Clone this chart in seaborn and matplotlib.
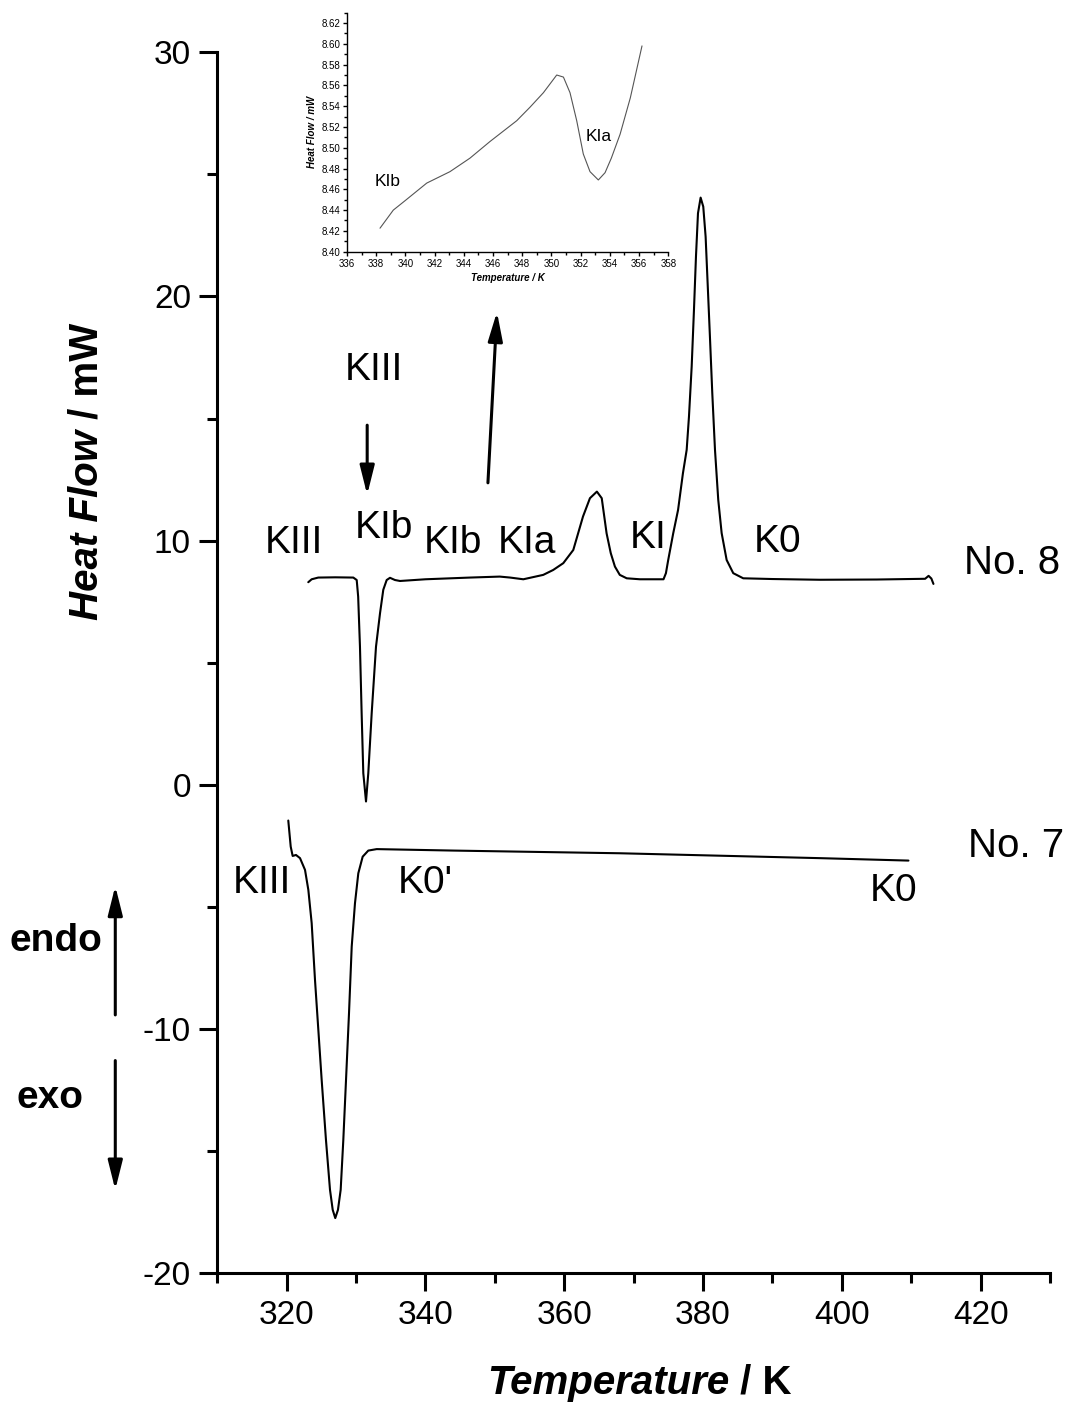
import numpy as np
import pandas as pd
import matplotlib
matplotlib.use("Agg")
import matplotlib.pyplot as plt
from matplotlib.ticker import MultipleLocator, FormatStrFormatter
import seaborn as sns

# curve No. 8 (heating)
t8 = [323.11, 323.6, 324.55, 327.0, 329.6, 330.09, 330.3, 330.56, 330.8, 331.04, 331.43,
      331.76, 332.25, 332.87, 333.45, 333.92, 334.41, 334.89, 335.6, 336.33, 340.0, 346.4,
      350.7, 352.2, 354.1, 356.97, 358.4, 359.86, 361.3, 362.7, 363.7, 364.7, 365.4, 366.1,
      366.7, 367.3, 368.0, 369.0, 370.9, 374.3, 374.65, 374.98, 375.7, 376.4, 377.1, 377.64,
      377.97, 378.36, 378.69, 378.98, 379.27, 379.65, 380.03, 380.37, 380.66, 380.99, 381.33,
      381.72, 382.19, 382.68, 383.4, 384.35, 385.79, 390.0, 396.8, 405.0, 412.0, 412.5,
      412.9, 413.2]
hf8 = [8.30, 8.42, 8.49, 8.50, 8.49, 8.39, 7.71, 5.66, 2.94, 0.48, -0.68,
       0.48, 2.94, 5.66, 7.03, 7.99, 8.39, 8.48, 8.39, 8.35, 8.42, 8.49,
       8.53, 8.49, 8.42, 8.60, 8.80, 9.08, 9.62, 10.99, 11.74, 12.01, 11.74, 10.30,
       9.49, 8.94, 8.60, 8.46, 8.42, 8.42, 8.67, 9.21, 10.30, 11.26, 12.76, 13.72,
       15.08, 17.13, 19.45, 21.64, 23.41, 24.05, 23.68, 22.45, 20.54, 18.36, 16.04,
       13.72, 11.67, 10.31, 9.21, 8.67, 8.46, 8.43, 8.40, 8.41, 8.44, 8.56,
       8.45, 8.23]

# curve No. 7
t7 = [320.23, 320.58, 320.86, 321.34, 321.92, 322.64, 323.12, 323.6, 324.08, 324.56,
      325.04, 325.66, 326.24, 326.63, 327.0, 327.39, 327.78, 328.16, 328.55, 328.98,
      329.37, 329.84, 330.32, 330.95, 331.76, 332.97, 344.0, 368.0, 396.8, 409.6]
hf7 = [-1.46, -2.53, -2.91, -2.87, -3.00, -3.48, -4.30, -5.66, -7.99, -10.03,
       -12.08, -14.54, -16.58, -17.40, -17.74, -17.40, -16.58, -14.54, -12.08, -9.35,
       -6.62, -4.85, -3.62, -2.94, -2.69, -2.63, -2.69, -2.80, -3.00, -3.10]

# inset (zoom of No. 8 between KIb and KIa)
t_in = [338.26, 339.17, 339.97, 341.46, 343.05, 344.42, 345.79, 347.62, 348.53, 349.45,
        350.36, 350.82, 351.27, 351.73, 352.18, 352.64, 353.21, 353.67, 354.1, 354.7,
        355.4, 356.2]
hf_in = [8.4226, 8.440, 8.449, 8.466, 8.477, 8.490, 8.506, 8.526, 8.539, 8.553,
         8.570, 8.568, 8.553, 8.526, 8.494, 8.477, 8.469, 8.476, 8.490, 8.513,
         8.548, 8.598]

df8 = pd.DataFrame({"T": t8, "HF": hf8})
df7 = pd.DataFrame({"T": t7, "HF": hf7})
dfin = pd.DataFrame({"T": t_in, "HF": hf_in})

sns.set_theme(style="ticks")
plt.rcParams["font.family"] = ["Liberation Sans", "DejaVu Sans"]
plt.rcParams.update({"text.color": "black", "axes.labelcolor": "black",
                     "xtick.color": "black", "ytick.color": "black",
                     "axes.edgecolor": "black", "axes.unicode_minus": False})

fig = plt.figure(figsize=(10.72, 14.06), dpi=100)
ax = fig.add_axes([0.2027, 0.0944, 0.7768, 0.8684])

sns.lineplot(data=df8, x="T", y="HF", ax=ax, color="black", lw=1.5, sort=False, estimator=None)
sns.lineplot(data=df7, x="T", y="HF", ax=ax, color="black", lw=1.5, sort=False, estimator=None)

ax.set_xlim(310, 430)
ax.set_ylim(-20, 30)
ax.xaxis.set_major_locator(MultipleLocator(20))
ax.xaxis.set_minor_locator(MultipleLocator(10))
ax.yaxis.set_major_locator(MultipleLocator(10))
ax.yaxis.set_minor_locator(MultipleLocator(5))
for s in ["top", "right"]:
    ax.spines[s].set_visible(False)
for s in ["left", "bottom"]:
    ax.spines[s].set_linewidth(2.2)
ax.tick_params(which="major", direction="out", length=13, width=2.2, labelsize=24, pad=6)
ax.tick_params(which="minor", direction="out", length=7, width=2.2)
ax.set_xlabel("")
ax.set_ylabel("")

# axis labels (italic quantity, upright unit)
fig.text(0.680, 0.0164, "Temperature", fontsize=29, fontweight="bold", fontstyle="italic",
         ha="right", va="center")
fig.text(0.680, 0.0164, " / K", fontsize=29, fontweight="bold", ha="left", va="center")
fig.text(0.081, 0.694, "Heat Flow", fontsize=29, fontweight="bold", fontstyle="italic",
         rotation=90, ha="center", va="top")
fig.text(0.081, 0.694, " / mW", fontsize=29, fontweight="bold",
         rotation=90, ha="center", va="bottom")

fs = 28
labels8 = [("KIII", 321.1, 9.91), ("KIb", 334.0, 10.51), ("KIb", 343.9, 9.9),
           ("KIa", 354.6, 9.9), ("KI", 372.1, 10.1), ("K0", 390.8, 9.96),
           ("KIII", 332.6, 17.0)]
for s, x, y in labels8:
    ax.text(x, y, s, fontsize=fs, ha="center", va="center")
labels7 = [("KIII", 316.4, -4.03), ("K0'", 339.9, -4.03), ("K0", 407.5, -4.34)]
for s, x, y in labels7:
    ax.text(x, y, s, fontsize=fs, ha="center", va="center")
ax.text(417.6, 9.08, "No. 8", fontsize=29, ha="left", va="center", clip_on=False)
ax.text(418.2, -2.52, "No. 7", fontsize=29, ha="left", va="center", clip_on=False)

arrow = dict(arrowstyle="-|>,head_length=0.8,head_width=0.2", mutation_scale=22,
             color="black", lw=2.2, shrinkA=0, shrinkB=0)
ax.annotate("", xy=(331.6, 11.88), xytext=(331.6, 14.73), arrowprops=arrow)
ax.annotate("", xy=(350.3, 19.37), xytext=(349.0, 12.37), arrowprops=arrow)
ax.annotate("", xy=(295.3, -4.14), xytext=(295.3, -9.42), arrowprops=arrow,
            annotation_clip=False)
ax.annotate("", xy=(295.3, -16.58), xytext=(295.3, -11.29), arrowprops=arrow,
            annotation_clip=False)
ax.text(0.052, 0.331, "endo", transform=fig.transFigure, fontsize=28, fontweight="bold",
        ha="center", va="center")
ax.text(0.047, 0.219, "exo", transform=fig.transFigure, fontsize=28, fontweight="bold",
        ha="center", va="center")

# inset
axi = fig.add_axes([0.3237, 0.8210, 0.2997, 0.170])
sns.lineplot(data=dfin, x="T", y="HF", ax=axi, color="#555555", lw=0.8, sort=False, estimator=None)
axi.set_xlim(336, 358)
axi.set_ylim(8.40, 8.63)
axi.xaxis.set_major_locator(MultipleLocator(2))
axi.xaxis.set_minor_locator(MultipleLocator(1))
axi.yaxis.set_major_locator(MultipleLocator(0.02))
axi.yaxis.set_minor_locator(MultipleLocator(0.01))
axi.yaxis.set_major_formatter(FormatStrFormatter("%.2f"))
for s in ["top", "right"]:
    axi.spines[s].set_visible(False)
for s in ["left", "bottom"]:
    axi.spines[s].set_linewidth(1.0)
axi.tick_params(which="major", direction="out", length=3, width=1.0, labelsize=7, pad=2)
axi.tick_params(which="minor", direction="out", length=2, width=1.0)
axi.set_xlabel("Temperature / K", fontsize=7, fontweight="bold", fontstyle="italic", labelpad=3)
axi.set_ylabel("Heat Flow / mW", fontsize=7, fontweight="bold", fontstyle="italic", labelpad=3)
axi.text(338.8, 8.468, "KIb", fontsize=12.5, ha="center", va="center")
axi.text(353.26, 8.511, "KIa", fontsize=12.5, ha="center", va="center")

fig.savefig("out.png", dpi=100)
